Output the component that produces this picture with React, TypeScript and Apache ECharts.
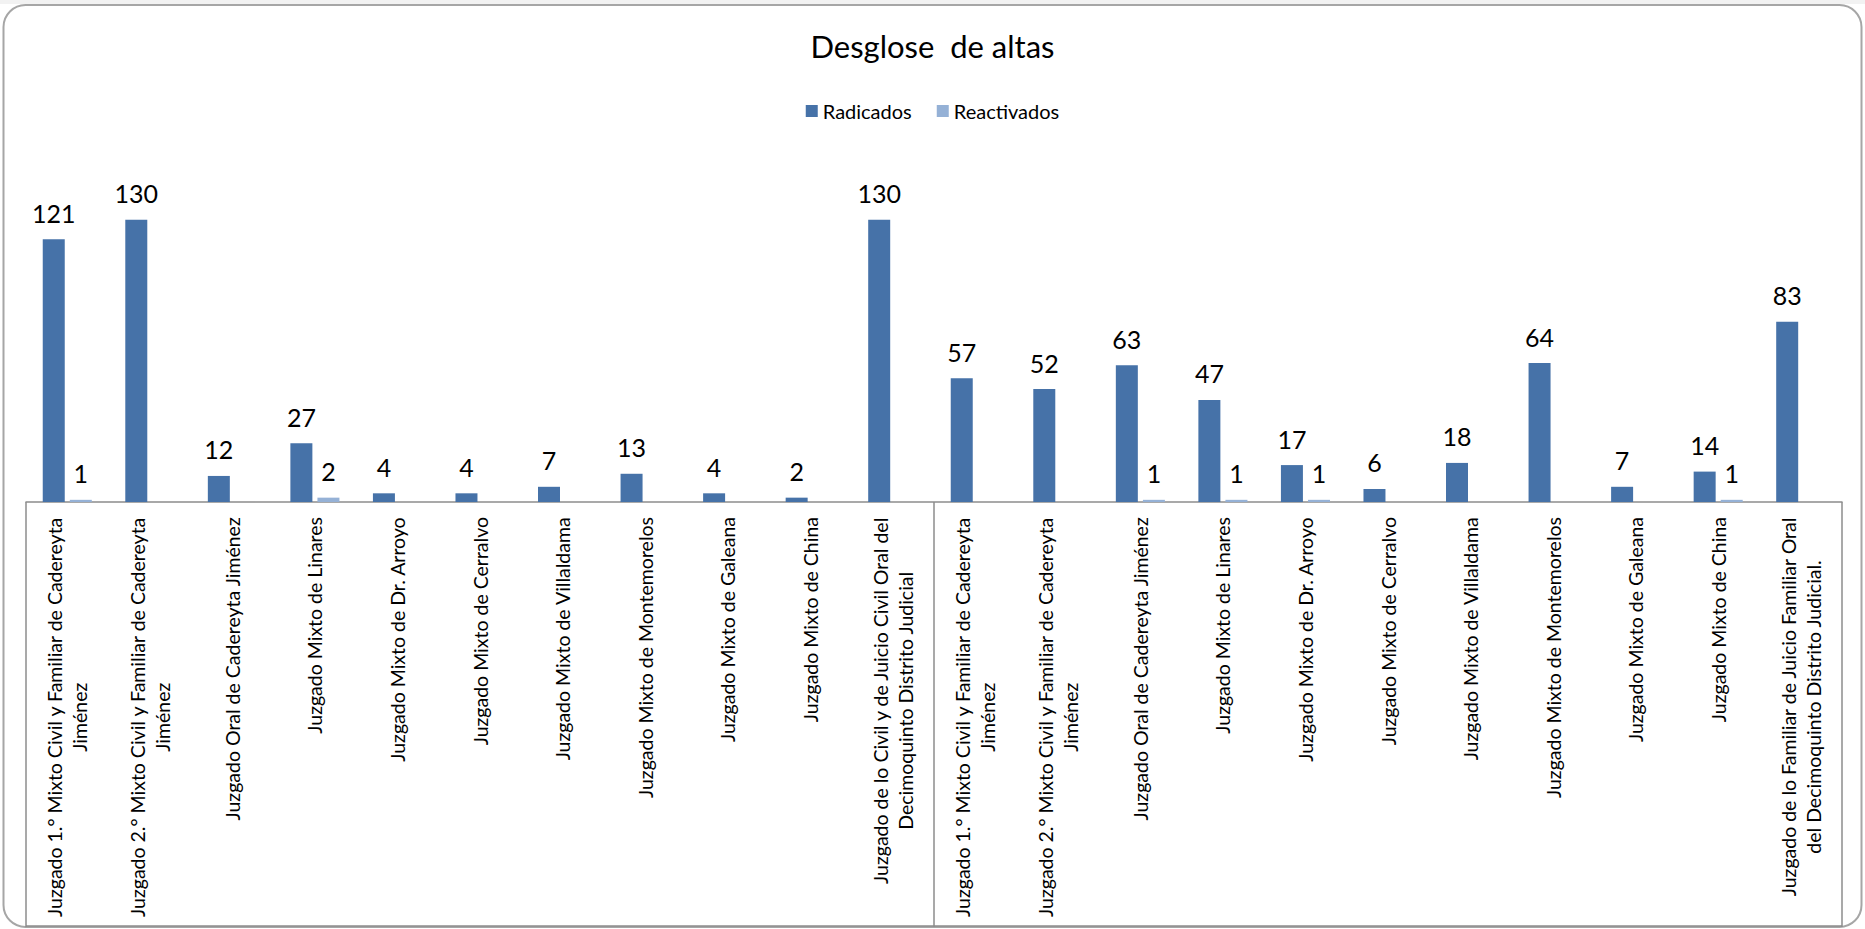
import React, { useEffect, useRef } from "react";
import * as echarts from "echarts";

const titleText = "Desglose  de altas";
const seriesNames = ["Radicados", "Reactivados"];
const categories = [
  "Juzgado 1.° Mixto Civil y Familiar de Cadereyta\nJiménez",
  "Juzgado 2.° Mixto Civil y Familiar de Cadereyta\nJiménez",
  "Juzgado Oral de Cadereyta Jiménez",
  "Juzgado Mixto de Linares",
  "Juzgado Mixto de Dr. Arroyo",
  "Juzgado Mixto de Cerralvo",
  "Juzgado Mixto de Villaldama",
  "Juzgado Mixto de Montemorelos",
  "Juzgado Mixto de Galeana",
  "Juzgado Mixto de China",
  "Juzgado de lo Civil y de Juicio Civil Oral del\nDecimoquinto Distrito Judicial",
  "Juzgado 1.° Mixto Civil y Familiar de Cadereyta\nJiménez",
  "Juzgado 2.° Mixto Civil y Familiar de Cadereyta\nJiménez",
  "Juzgado Oral de Cadereyta Jiménez",
  "Juzgado Mixto de Linares",
  "Juzgado Mixto de Dr. Arroyo",
  "Juzgado Mixto de Cerralvo",
  "Juzgado Mixto de Villaldama",
  "Juzgado Mixto de Montemorelos",
  "Juzgado Mixto de Galeana",
  "Juzgado Mixto de China",
  "Juzgado de lo Familiar de Juicio Familiar Oral\ndel Decimoquinto Distrito Judicial.",
];
const groups = ["", ""];
const radicados = [121, 130, 12, 27, 4, 4, 7, 13, 4, 2, 130, 57, 52, 63, 47, 17, 6, 18, 64, 7, 14, 83];
const reactivados = [1, null, null, 2, null, null, null, null, null, null, null, null, null, 1, 1, 1, null, null, null, null, 1, null];

const FONT = "Lato";
const AXIS_COLOR = "#8C8C8C";

export default function App() {
  const ref = useRef<HTMLDivElement>(null);
  useEffect(() => {
    if (!ref.current) return;
    const chart = echarts.init(ref.current, null, { renderer: "svg" });
    const labelStyle = {
      show: true,
      position: "top",
      distance: 14,
      color: "#000",
      fontFamily: FONT,
      fontSize: 25,
    };
    chart.setOption({
      animation: false,
      backgroundColor: "#fff",
      title: {
        text: titleText,
        left: "center",
        top: 25,
        textStyle: { fontFamily: FONT, fontSize: 31, fontWeight: "normal", color: "#000" },
      },
      legend: {
        data: seriesNames,
        top: 96,
        left: "center",
        icon: "rect",
        itemWidth: 12,
        itemHeight: 12,
        itemGap: 25,
        textStyle: { fontFamily: FONT, fontSize: 20, color: "#000" },
      },
      grid: { left: 26, right: 23, top: 198, bottom: 427, containLabel: false },
      xAxis: [
        {
          type: "category",
          data: categories,
          axisLine: { show: true, lineStyle: { color: AXIS_COLOR, width: 1.5 } },
          axisTick: { show: false },
          axisLabel: {
            interval: 0,
            rotate: 90,
            margin: 15,
            formatter: (v: string) => v.split("\n").map((l) => `{a|${l}}`).join("\n"),
            rich: {
              a: { align: "center", fontFamily: FONT, fontSize: 19.5, lineHeight: 25, color: "#000" },
            },
          },
        },
        {
          type: "category",
          data: groups,
          position: "bottom",
          axisLine: { show: false },
          axisTick: { show: true, length: 425, interval: 0, lineStyle: { color: AXIS_COLOR, width: 1.5 } },
          axisLabel: { show: false },
        },
      ],
      yAxis: { type: "value", min: 0, max: 140, show: false, splitLine: { show: false } },
      series: [
        {
          name: seriesNames[0],
          type: "bar",
          data: radicados,
          barWidth: 22,
          barGap: "23%",
          itemStyle: { color: "#4672A8" },
          label: labelStyle,
        },
        {
          name: seriesNames[1],
          type: "bar",
          data: reactivados,
          barWidth: 22,
          itemStyle: { color: "#95B1D6" },
          label: labelStyle,
        },
      ],
      graphic: [
        {
          type: "rect",
          silent: true,
          z: -1,
          shape: { x: 0, y: 0, width: 1865, height: 4 },
          style: { fill: "#F2F2F2" },
        },
        {
          type: "rect",
          silent: true,
          shape: { x: 3.5, y: 5, width: 1858, height: 922, r: 22 },
          style: { fill: "none", stroke: "#A6A6A6", lineWidth: 2 },
        },
        {
          type: "line",
          silent: true,
          shape: { x1: 26, y1: 926, x2: 1842, y2: 926 },
          style: { stroke: AXIS_COLOR, lineWidth: 1.5 },
        },
      ],
    });
    return () => chart.dispose();
  }, []);
  return (
    <div
      ref={ref}
      style={{ position: "fixed", left: 0, top: 0, width: 1865, height: 929 }}
    />
  );
}
